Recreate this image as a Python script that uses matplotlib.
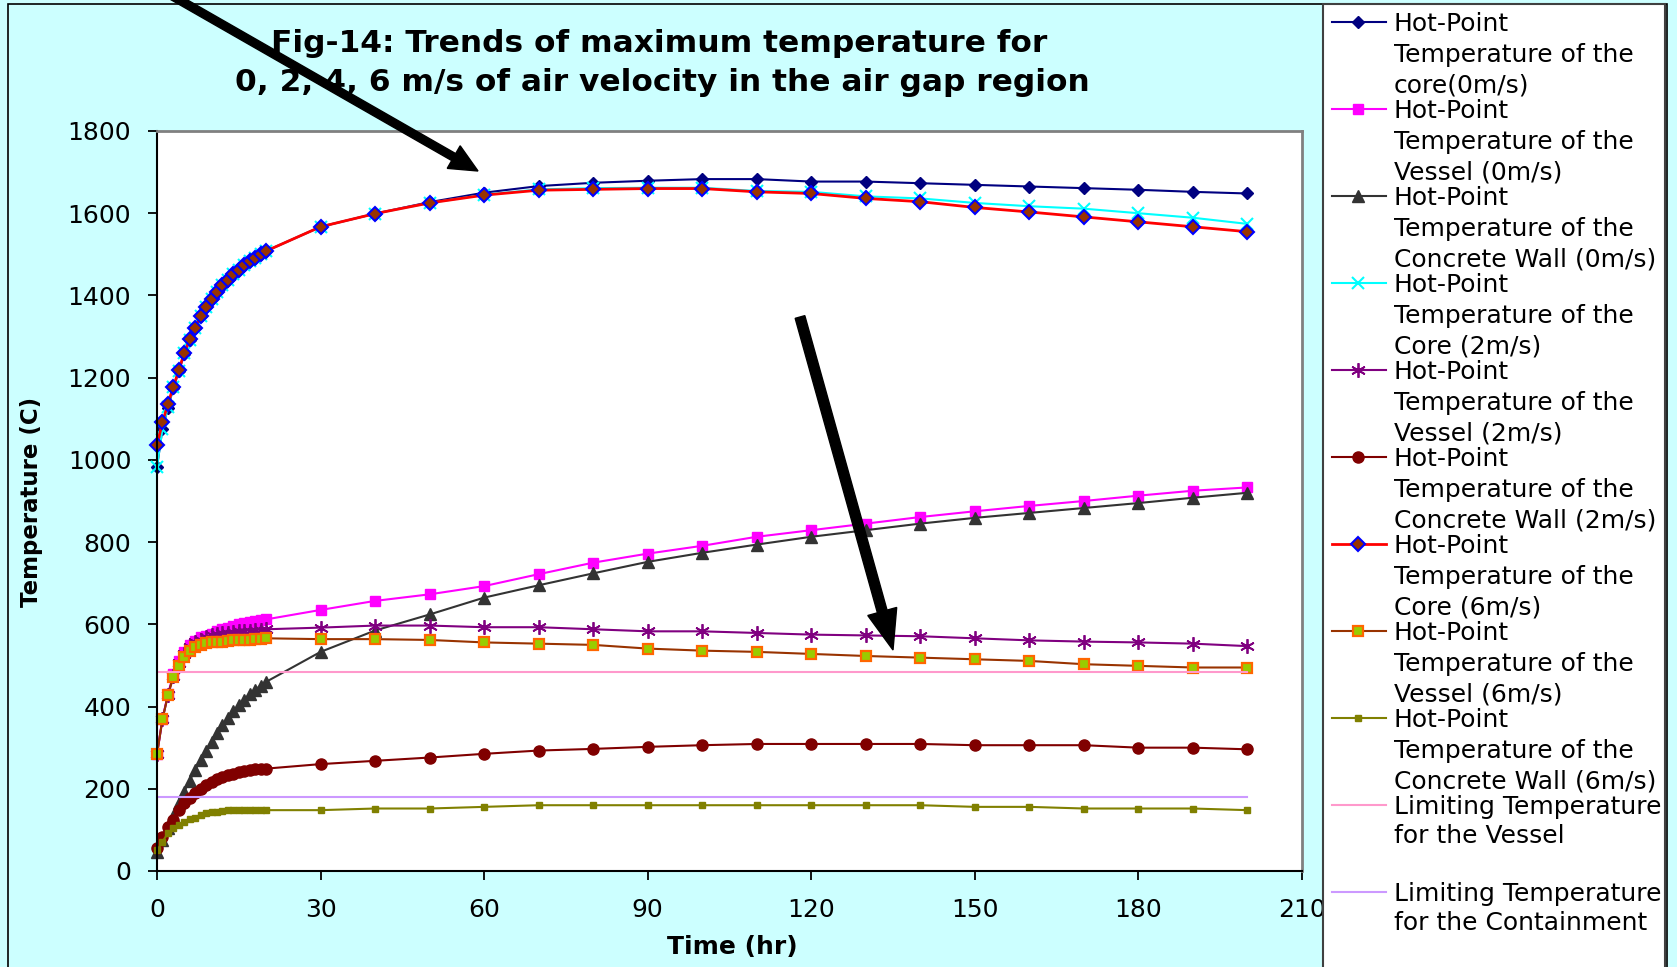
import matplotlib
matplotlib.use('Agg')
import matplotlib.pyplot as plt
from matplotlib.lines import Line2D
from matplotlib.patches import Rectangle, FancyArrow
from matplotlib.transforms import IdentityTransform

W, H = 1677, 967

# ---------------- data ----------------
time_hr = [0, 1, 2, 3, 4, 5, 6, 7, 8, 9, 10, 11, 12, 13, 14, 15, 16, 17, 18, 19, 20,
           30, 40, 50, 60, 70, 80, 90, 100, 110, 120, 130, 140, 150, 160, 170, 180, 190, 200]

core_0 = [983, 1076, 1126, 1175, 1216, 1258, 1291, 1321, 1349, 1371, 1391, 1408, 1424, 1438,
          1450, 1462, 1473, 1483, 1492, 1500, 1508,
          1567, 1599, 1627, 1650, 1666, 1674, 1679, 1683, 1683, 1677, 1677, 1673, 1669, 1665,
          1661, 1657, 1652, 1648]
vessel_0 = [284, 370, 430, 478, 510, 533, 550, 560, 568, 572, 577, 583, 588, 592, 596, 600,
            603, 606, 608, 610, 612,
            635, 657, 673, 693, 722, 750, 772, 791, 813, 829, 845, 861, 875, 888, 900, 913, 925, 933]
concrete_0 = [47, 75, 105, 135, 165, 193, 220, 246, 270, 293, 315, 335, 355, 372, 388, 403,
              417, 430, 441, 451, 460,
              533, 585, 624, 665, 695, 724, 752, 774, 794, 813, 829, 845, 859, 871, 883, 895, 908, 920]
core_2 = [983, 1075, 1128, 1177, 1217, 1259, 1292, 1322, 1350, 1372, 1392, 1408, 1425, 1438,
          1451, 1463, 1474, 1483, 1492, 1500, 1508,
          1567, 1599, 1625, 1645, 1658, 1661, 1662, 1662, 1654, 1652, 1641, 1636, 1625, 1617,
          1611, 1600, 1589, 1574]
vessel_2 = [284, 369, 428, 475, 505, 528, 545, 556, 563, 568, 573, 576, 578, 580, 582, 583,
            584, 585, 586, 587, 588,
            592, 597, 597, 593, 593, 588, 583, 583, 579, 575, 573, 571, 566, 561, 558, 556, 553, 547]
concrete_2 = [55, 82, 108, 124, 148, 165, 177, 189, 199, 209, 217, 223, 229, 233, 237, 241,
              244, 246, 248, 249, 249,
              260, 268, 276, 285, 293, 297, 302, 306, 309, 309, 309, 309, 306, 306, 306, 300, 300, 296]
core_6 = [1037, 1091, 1136, 1178, 1218, 1260, 1293, 1322, 1350, 1372, 1392, 1408, 1425, 1438,
          1451, 1463, 1474, 1483, 1492, 1500, 1508,
          1567, 1599, 1625, 1644, 1656, 1658, 1660, 1660, 1652, 1648, 1636, 1628, 1614, 1603,
          1591, 1579, 1567, 1555]
vessel_6 = [284, 369, 427, 472, 499, 520, 536, 544, 550, 554, 557, 558, 558, 559, 561, 562,
            562, 563, 564, 565, 566,
            564, 564, 562, 556, 553, 550, 541, 536, 533, 528, 523, 519, 515, 511, 503, 499, 495, 495]
concrete_6 = [50, 71, 92, 104, 112, 120, 126, 130, 136, 140, 143, 144, 146, 148, 148, 148,
              148, 148, 148, 148, 148,
              148, 152, 152, 156, 160, 160, 160, 160, 160, 160, 160, 160, 156, 156, 152, 152, 152, 148]

limit_time = [0, 200]
limit_vessel = [485, 485]
limit_containment = [180, 180]

series_names = [
    ["Hot-Point", "Temperature of the", "core(0m/s)"],
    ["Hot-Point", "Temperature of the", "Vessel (0m/s)"],
    ["Hot-Point", "Temperature of the", "Concrete Wall (0m/s)"],
    ["Hot-Point", "Temperature of the", "Core (2m/s)"],
    ["Hot-Point", "Temperature of the", "Vessel (2m/s)"],
    ["Hot-Point", "Temperature of the", "Concrete Wall (2m/s)"],
    ["Hot-Point", "Temperature of the", "Core (6m/s)"],
    ["Hot-Point", "Temperature of the", "Vessel (6m/s)"],
    ["Hot-Point", "Temperature of the", "Concrete Wall (6m/s)"],
    ["Limiting Temperature", "for the Vessel"],
    ["Limiting Temperature", "for the Containment"],
]

title_lines = ["Fig-14: Trends of maximum temperature for",
               "0, 2, 4, 6 m/s of air velocity in the air gap region"]
x_label = "Time (hr)"
y_label = "Temperature (C)"
x_ticks = [0, 30, 60, 90, 120, 150, 180, 210]
y_ticks = [0, 200, 400, 600, 800, 1000, 1200, 1400, 1600, 1800]

# ---------------- styles ----------------
styles = [
    dict(color='#000080', lw=1.5, marker='D', ms=6.5, mfc='#000080', mec='#000080', mew=1),
    dict(color='#FF00FF', lw=1.5, marker='s', ms=7.5, mfc='#FF00FF', mec='#FF00FF', mew=1),
    dict(color='#333333', lw=1.5, marker='^', ms=9, mfc='#333333', mec='#333333', mew=1),
    dict(color='#00FFFF', lw=1.5, marker='x', ms=8, mfc='#00FFFF', mec='#00FFFF', mew=1.5),
    dict(color='#800080', lw=1.5, marker=(6, 2, 0), ms=10.5, mfc='#800080', mec='#800080', mew=1.3),
    dict(color='#800000', lw=1.5, marker='o', ms=8, mfc='#800000', mec='#800000', mew=1),
    dict(color='#FF0000', lw=2.0, marker='D', ms=7, mfc='#993300', mec='#0000FF', mew=1.5),
    dict(color='#993300', lw=1.5, marker='s', ms=7.5, mfc='#99CC00', mec='#FF6600', mew=1.6),
    dict(color='#808000', lw=1.5, marker='s', ms=4, mfc='#808000', mec='#808000', mew=1),
    dict(color='#FF99CC', lw=1.5, marker=None),
    dict(color='#CC99FF', lw=1.5, marker=None),
]

series_values = [core_0, vessel_0, concrete_0, core_2, vessel_2, concrete_2,
                 core_6, vessel_6, concrete_6]

def fx(x):
    return x / W

def fy(y):
    return 1 - y / H

fig = plt.figure(figsize=(W / 100, H / 100), dpi=100)
fig.patch.set_facecolor('#CCFFFF')

ax = fig.add_axes([fx(157), fy(871), (1302 - 157) / W, (871 - 131) / H])
ax.set_facecolor('white')

for vals, st in zip(series_values, styles[:9]):
    ax.plot(time_hr, vals, **st, clip_on=False)
ax.plot(limit_time, limit_vessel, **styles[9])
ax.plot(limit_time, limit_containment, **styles[10])

ax.set_xlim(0, 210)
ax.set_ylim(0, 1800)
ax.set_xticks(x_ticks)
ax.set_yticks(y_ticks)
ax.set_xticklabels([str(v) for v in x_ticks])
ax.set_yticklabels([str(v) for v in y_ticks])
ax.tick_params(axis='both', direction='out', length=6.5, width=1.3, labelsize=18,
               colors='black')
ax.tick_params(axis='x', pad=13)
ax.tick_params(axis='y', pad=12)
for s in ['left', 'bottom']:
    ax.spines[s].set_color('black')
    ax.spines[s].set_linewidth(1.5)
for s in ['top', 'right']:
    ax.spines[s].set_color('#808080')
    ax.spines[s].set_linewidth(2)

# title
fig.text(fx(659), fy(51.7), title_lines[0], ha='center', va='baseline',
         fontsize=22.5, fontweight='bold')
fig.text(fx(662), fy(90.7), title_lines[1], ha='center', va='baseline',
         fontsize=22.5, fontweight='bold')

# axis labels
fig.text(fx(732), fy(947), x_label, ha='center', va='center', fontsize=18, fontweight='bold')
fig.text(fx(32), fy(502), y_label, ha='center', va='center', rotation=90,
         fontsize=16.5, fontweight='bold')

# outer border
fig.add_artist(Rectangle((fx(8), fy(980)), (1667 - 8) / W, (980 - 4) / H,
                         transform=fig.transFigure, facecolor='none', edgecolor='black',
                         lw=1.2, zorder=2, clip_on=False))

# legend box
fig.add_artist(Rectangle((fx(1323), fy(980)), (1665 - 1323) / W, (980 - 4) / H,
                         transform=fig.transFigure, facecolor='white', edgecolor='#404040',
                         lw=1.5, zorder=4, clip_on=False))

for k, (lines, st) in enumerate(zip(series_names, styles)):
    y_handle = 21.6 + 87 * k
    base = 30.7 + 87 * k
    line_st = {kk: v for kk, v in st.items() if kk in ('color', 'lw')}
    fig.add_artist(Line2D([fx(1332), fx(1386)], [fy(y_handle), fy(y_handle)],
                          transform=fig.transFigure, zorder=5, **line_st))
    if st.get('marker') is not None:
        mk = {kk: v for kk, v in st.items() if kk in ('marker', 'ms', 'mfc', 'mec', 'mew')}
        fig.add_artist(Line2D([fx(1358)], [fy(y_handle)], transform=fig.transFigure,
                              linestyle='none', zorder=6, **mk))
    step = 31.0 if len(lines) == 3 else 29.6
    for j, txt in enumerate(lines):
        t = fig.text(fx(1394), fy(base + j * step), txt, ha='left', va='baseline',
                     fontsize=18, color='black')
        t.set_zorder(6)

# arrows (annotation)
fig.add_artist(FancyArrow(162, H + 10, 478 - 162, -(171 + 10), width=8, head_width=26,
                          head_length=28, length_includes_head=True, color='black',
                          transform=IdentityTransform(), zorder=7))
fig.add_artist(FancyArrow(800, H - 317, 893 - 800, -(650 - 317), width=10, head_width=30,
                          head_length=40, length_includes_head=True, color='black',
                          transform=IdentityTransform(), zorder=7))

fig.savefig('out.png', dpi=100, facecolor=fig.get_facecolor())
